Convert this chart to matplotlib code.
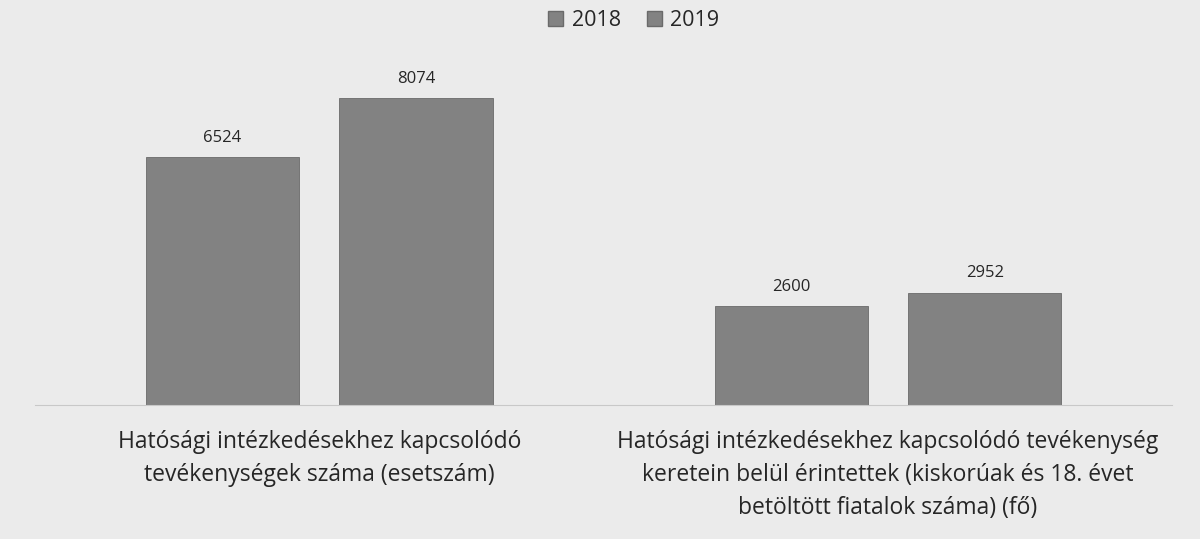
import matplotlib
matplotlib.use("Agg")
import matplotlib.pyplot as plt
import numpy as np
from matplotlib.patches import Patch

categories = [
    "Hatósági intézkedésekhez kapcsolódó\ntevékenységek száma (esetszám)",
    "Hatósági intézkedésekhez kapcsolódó tevékenység\nkeretein belül érintettek (kiskorúak és 18. évet\nbetöltött fiatalok száma) (fő)",
]
series_names = ["2018", "2019"]
values_2018 = [6524, 2600]
values_2019 = [8074, 2952]

BG = "#ebebeb"
BAR = "#828282"
TEXT = "#262626"

plt.rcParams["font.family"] = ["Open Sans", "DejaVu Sans"]

fig = plt.figure(figsize=(12, 5.39), dpi=100, facecolor=BG)
ax = fig.add_axes([0.029, 0.249, 0.948, 0.635])
ax.set_facecolor(BG)

x = np.arange(len(categories))
width = 0.27
offset = 0.17
bars1 = ax.bar(x - offset, values_2018, width, color=BAR, edgecolor="#6a6a6a", linewidth=0.6)
bars2 = ax.bar(x + offset, values_2019, width, color=BAR, edgecolor="#6a6a6a", linewidth=0.6)

for bars in (bars1, bars2):
    for b in bars:
        ax.annotate(f"{int(b.get_height())}", (b.get_x() + b.get_width() / 2, b.get_height()),
                    xytext=(0, 8), textcoords="offset points", ha="center", va="bottom",
                    fontsize=12, color=TEXT)

ax.set_xlim(-0.5, 1.5)
ax.set_ylim(0, 9000)
ax.set_yticks([])
ax.set_xticks(x)
ax.set_xticklabels(categories, fontsize=16.5, color=TEXT, linespacing=1.5)
ax.tick_params(axis="x", length=0, pad=18)
for s in ["top", "right", "left"]:
    ax.spines[s].set_visible(False)
ax.spines["bottom"].set_color("#c8c8c8")
ax.spines["bottom"].set_linewidth(0.8)

handles = [Patch(facecolor=BAR, edgecolor="#6a6a6a", label=n) for n in series_names]
fig.legend(handles=handles, loc="center", bbox_to_anchor=(0.528, 0.962), ncol=2,
           frameon=False, fontsize=15.5, handlelength=0.7, handleheight=0.7,
           handletextpad=0.4, columnspacing=1.2, labelcolor=TEXT)

fig.savefig("out.png", dpi=100, facecolor=BG)
